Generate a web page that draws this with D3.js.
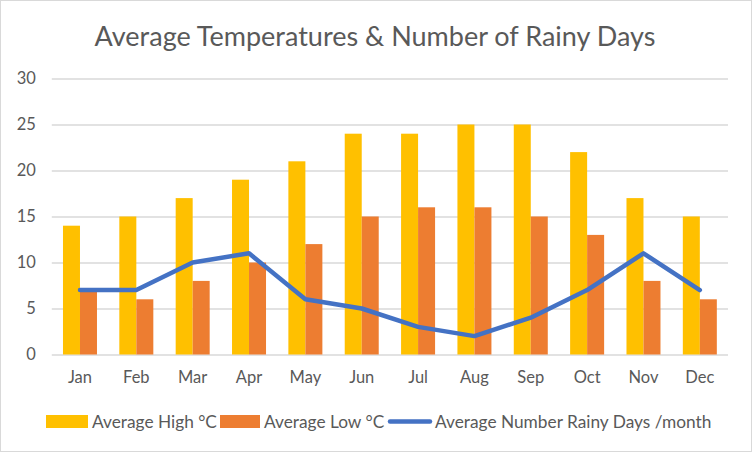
<!DOCTYPE html>
<html><head><meta charset="utf-8">
<script src="https://cdn.jsdelivr.net/npm/d3@7/dist/d3.min.js"></script>
<style>body{margin:0;background:#fff}svg{display:block}text{font-family:Lato,"Open Sans",sans-serif}</style>
</head><body><svg id="c" width="752" height="452"></svg>
<script>
const months = ["Jan","Feb","Mar","Apr","May","Jun","Jul","Aug","Sep","Oct","Nov","Dec"];
const highs = [14,15,17,19,21,24,24,25,25,22,17,15];
const lows = [7,6,8,10,12,15,16,16,15,13,8,6];
const rainy = [7,7,10,11,6,5,3,2,4,7,11,7];
const yTicks = [0,5,10,15,20,25,30];
const seriesNames = ["Average High °C","Average Low °C","Average Number Rainy Days /month"];
const colors = ["#ffc000","#ed7d31","#4472c4"];

const svg = d3.select("#c");
svg.append("rect").attr("x",0.5).attr("y",0.5).attr("width",751).attr("height",451)
  .attr("fill","#fff").attr("stroke","#d9d9d9");

const x = d3.scaleBand().domain(months).range([51.8,728]).paddingInner(0).paddingOuter(0);
const y = d3.scaleLinear().domain([0,30]).range([354.5,78.5]);
const barW = 17;

svg.append("text").attr("x",375).attr("y",46).attr("text-anchor","middle")
  .attr("font-size",27).attr("fill","#595959").text("Average Temperatures & Number of Rainy Days");

const gy = svg.append("g").attr("transform","translate(51.8,0)")
  .call(d3.axisLeft(y).tickValues(yTicks).tickSize(-(728-51.8)).tickPadding(16));
gy.select(".domain").remove();
gy.selectAll(".tick line").attr("stroke","#d9d9d9").attr("stroke-width",1.3);
gy.selectAll(".tick text").attr("fill","#595959").attr("font-size",16.5).attr("font-family","Lato,sans-serif");

const gx = svg.append("g").attr("transform","translate(0,354.5)")
  .call(d3.axisBottom(x).tickSize(0).tickPadding(17));
gx.select(".domain").remove();
gx.selectAll(".tick text").attr("fill","#595959").attr("font-size",16.5).attr("font-family","Lato,sans-serif");

svg.append("g").selectAll("rect").data(months).join("rect")
  .attr("x",d=>x(d)+x.bandwidth()/2-barW).attr("width",barW)
  .attr("y",(d,i)=>y(highs[i])).attr("height",(d,i)=>y(0)-y(highs[i])).attr("fill",colors[0]);
svg.append("g").selectAll("rect").data(months).join("rect")
  .attr("x",d=>x(d)+x.bandwidth()/2).attr("width",barW)
  .attr("y",(d,i)=>y(lows[i])).attr("height",(d,i)=>y(0)-y(lows[i])).attr("fill",colors[1]);

const line = d3.line().x((d,i)=>x(months[i])+x.bandwidth()/2).y(d=>y(d));
svg.append("path").datum(rainy).attr("d",line).attr("fill","none")
  .attr("stroke",colors[2]).attr("stroke-width",4.5).attr("stroke-linejoin","round").attr("stroke-linecap","round");

// legend
const lg = svg.append("g").attr("font-size",17.3).attr("fill","#595959");
lg.append("rect").attr("x",46).attr("y",415).attr("width",42).attr("height",13).attr("fill",colors[0]);
lg.append("text").attr("x",92).attr("y",427.5).attr("fill","#595959").text(seriesNames[0]);
lg.append("rect").attr("x",220).attr("y",415).attr("width",40).attr("height",13).attr("fill",colors[1]);
lg.append("text").attr("x",264).attr("y",427.5).attr("fill","#595959").text(seriesNames[1]);
lg.append("line").attr("x1",390).attr("x2",430).attr("y1",421.5).attr("y2",421.5)
  .attr("stroke",colors[2]).attr("stroke-width",4.5).attr("stroke-linecap","round");
lg.append("text").attr("x",435).attr("y",427.5).attr("fill","#595959").text(seriesNames[2]);
</script></body></html>
